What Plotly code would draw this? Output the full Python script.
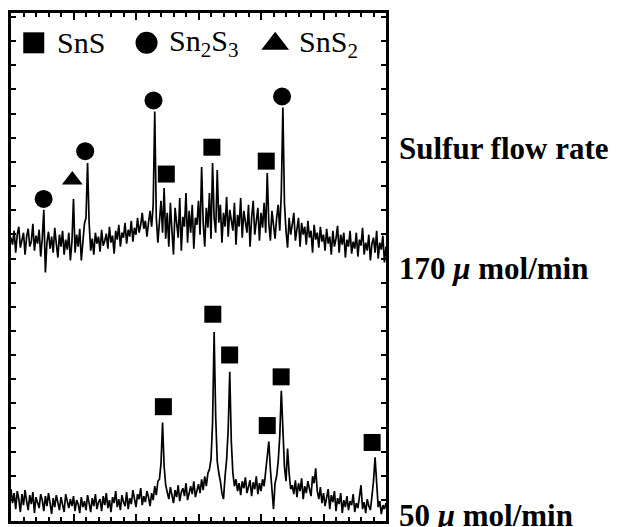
import numpy as np
import plotly.graph_objects as go

# 2-theta sampling grid (deg)
two_theta = np.arange(10.0, 70.0001, 0.25)

# Upper pattern: sulfur flow 170 umol/min (intensity, a.u.)
upper = [
    285, 278, 292, 270, 288, 296, 275, 283, 290, 268, 286, 294, 276, 281, 299, 272, 287, 279, 293, 266,
    284, 313, 250, 280, 291, 274, 286, 270, 295, 279, 265, 288, 276, 292, 268, 283, 273, 290, 262, 281,
    324, 270, 288, 276, 294, 262, 285, 299, 305, 360, 300, 272, 284, 268, 290, 279, 286, 271, 293, 277,
    282, 289, 274, 296, 280, 287, 269, 292, 283, 298, 276, 290, 285, 300, 279, 293, 286, 302, 281, 295,
    288, 305, 290, 298, 310, 294, 302, 286, 300, 312, 296, 318, 412, 305, 280, 298, 322, 290, 335, 284,
    310, 276, 320, 292, 268, 315, 300, 285, 325, 272, 306, 296, 330, 280, 312, 290, 318, 274, 305, 298,
    322, 288, 356, 300, 276, 315, 295, 330, 284, 360, 305, 290, 353, 300, 318, 280, 310, 296, 326, 286,
    313, 300, 292, 320, 278, 308, 296, 325, 285, 312, 302, 290, 318, 276, 305, 322, 288, 300, 315, 282,
    310, 295, 320, 290, 350, 300, 282, 312, 296, 284, 305, 318, 292, 330, 416, 320, 292, 275, 305, 288,
    298, 310, 282, 295, 305, 276, 300, 288, 296, 278, 302, 285, 292, 270, 298, 283, 290, 275, 296, 281,
    288, 272, 294, 279, 286, 268, 292, 276, 284, 297, 270, 288, 278, 290, 265, 283, 276, 292, 269, 281,
    274, 290, 266, 283, 277, 295, 268, 280, 272, 288, 262, 279, 285, 270, 292, 264, 280, 273, 287, 260, 276,
]

# Lower pattern: sulfur flow 50 umol/min (intensity, a.u.)
lower = [
    32, 18, 28, 12, 30, 22, 9, 27, 16, 31, 20, 11, 26, 17, 29, 8, 24, 19, 13, 27,
    21, 10, 25, 15, 28, 18, 7, 23, 14, 26, 19, 11, 24, 16, 9, 27, 20, 13, 22, 15,
    25, 10, 21, 17, 8, 24, 14, 20, 11, 26, 18, 9, 23, 15, 27, 12, 19, 22, 10, 25,
    16, 28, 13, 21, 9, 24, 18, 30, 14, 22, 11, 26, 19, 15, 29, 12, 23, 17, 31, 20,
    14, 27, 22, 33, 16, 25, 19, 30, 24, 15, 28, 21, 35, 26, 40, 42, 58, 99, 55, 36,
    30, 22, 34, 26, 18, 31, 24, 36, 20, 29, 33, 25, 38, 21, 30, 35, 27, 40, 24, 32,
    37, 28, 42, 31, 45, 35, 48, 52, 62, 98, 190, 105, 60, 48, 40, 28, 22, 45, 62, 92,
    150, 80, 48, 35, 42, 30, 38, 26, 40, 33, 44, 28, 36, 41, 25, 39, 32, 45, 27, 38,
    30, 42, 35, 50, 58, 80, 52, 34, 12, 38, 45, 60, 85, 131, 95, 55, 40, 73, 48, 32,
    36, 27, 41, 24, 38, 30, 43, 22, 35, 28, 40, 33, 25, 45, 38, 53, 30, 22, 34, 18,
    28, 15, 24, 32, 12, 26, 19, 30, 10, 23, 17, 28, 8, 21, 14, 25, 11, 20, 16, 27,
    9, 18, 13, 24, 36, 12, 19, 8, 22, 15, 11, 25, 40, 64, 38, 14, 20, 7, 16, 12, 18,
]

# Phase identification marks (2-theta, marker height)
upper_sns_x = [34.85, 42.14, 50.84]
upper_sns_y = [349, 376, 362]
upper_sn2s3_x = [15.22, 21.87, 32.80, 53.37]
upper_sn2s3_y = [324, 372, 423, 427]
upper_sns2_x = [19.81]
upper_sns2_y = [343]

lower_sns_x = [34.38, 42.29, 44.98, 51.00, 53.22, 67.78]
lower_sns_y = [115, 208, 167, 96, 145, 79]

# Legend entries
legend_names = ["SnS", "Sn<sub>2</sub>S<sub>3</sub>", "SnS<sub>2</sub>"]
legend_symbols = ["square", "circle", "triangle-up"]
legend_x = [13.64, 31.69, 52.27]
legend_y = [481, 481, 480]
legend_text_x = [16.96, 34.99, 55.73]

labels_right = ["Sulfur flow rate", "170 <i>\u03bc</i> mol/min", "50 <i>\u03bc</i> mol/min"]
labels_right_y = [0.734, 0.498, 0.011]

fig = go.Figure()
fig.add_trace(go.Scatter(x=two_theta, y=upper, mode="lines",
                         line=dict(color="black", width=1.7), showlegend=False))
fig.add_trace(go.Scatter(x=two_theta, y=lower, mode="lines",
                         line=dict(color="black", width=1.7), showlegend=False))

mk = dict(color="black", opacity=1, line=dict(width=0))
fig.add_trace(go.Scatter(x=upper_sns_x + lower_sns_x, y=upper_sns_y + lower_sns_y, mode="markers",
                         marker=dict(symbol="square", size=17, **mk), showlegend=False))
fig.add_trace(go.Scatter(x=upper_sn2s3_x, y=upper_sn2s3_y, mode="markers",
                         marker=dict(symbol="circle", size=18, **mk), showlegend=False))
fig.add_trace(go.Scatter(x=upper_sns2_x, y=upper_sns2_y, mode="markers",
                         marker=dict(symbol="triangle-up", size=18, **mk), showlegend=False))
fig.add_trace(go.Scatter(x=legend_x, y=legend_y, mode="markers",
                         marker=dict(symbol=legend_symbols, size=[21, 22, 24], **mk),
                         showlegend=False))

for name, tx, ty in zip(legend_names, legend_text_x, legend_y):
    fig.add_annotation(x=tx, y=ty, xref="x", yref="y", text=name, showarrow=False,
                       xanchor="left", yanchor="middle",
                       font=dict(family="Liberation Serif", size=30, color="black"))

for txt, py in zip(labels_right, labels_right_y):
    fig.add_annotation(x=1.029, y=py, xref="paper", yref="paper", text="<b>" + txt + "</b>",
                       showarrow=False, xanchor="left", yanchor="middle",
                       font=dict(family="Liberation Serif", size=31, color="black"))

fig.update_xaxes(range=[10, 70], showgrid=False, zeroline=False, showticklabels=False,
                 showline=True, linewidth=3, linecolor="black", mirror="ticks",
                 ticks="inside", tick0=10, dtick=10, ticklen=7, tickwidth=2, tickcolor="black",
                 minor=dict(ticks="inside", dtick=2, ticklen=4, tickwidth=2, tickcolor="black"))
fig.update_yaxes(range=[0, 511], showgrid=False, zeroline=False, showticklabels=False,
                 showline=True, linewidth=3, linecolor="black", mirror="ticks",
                 ticks="inside", tick0=21, dtick=24.3, ticklen=5, tickwidth=2, tickcolor="black")

# page body adds an 8px offset, so the figure is sized to fit the 619x527 window
fig.update_layout(width=611, height=519, margin=dict(l=3, r=233, t=5, b=6),
                  plot_bgcolor="white", paper_bgcolor="white", showlegend=False)

fig.write_html("out.html")
